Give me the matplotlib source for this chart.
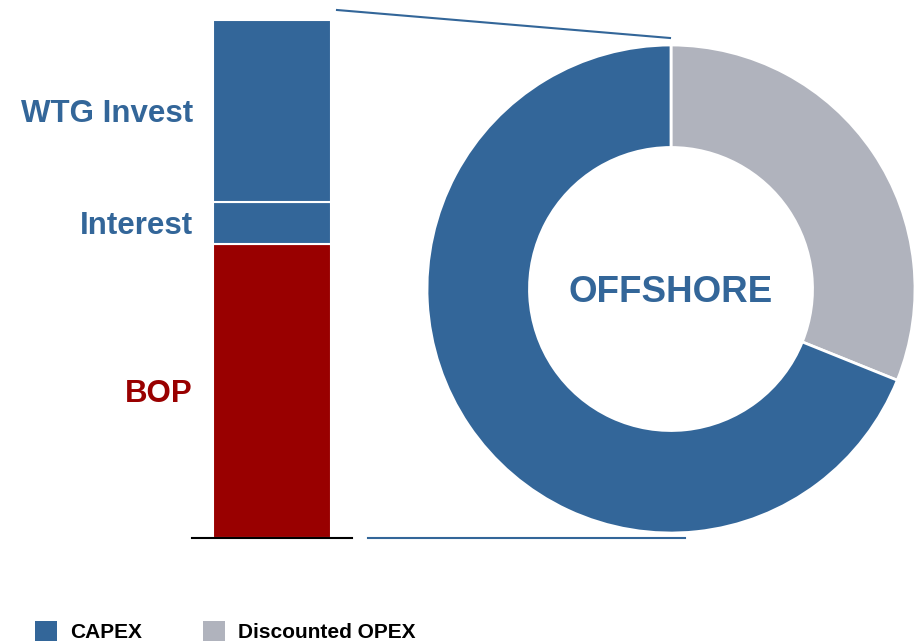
import matplotlib.pyplot as plt
from matplotlib.patches import Patch
from matplotlib.lines import Line2D
import matplotlib.transforms as mtransforms

plt.rcParams['font.family'] = ['Liberation Sans', 'DejaVu Sans']

# stacked bar (cost breakdown, % of CAPEX)
bar_labels = ['BOP', 'Interest', 'WTG Invest']
bar_values = [56.8, 8.1, 35.1]
bar_colors = ['#990000', '#336699', '#336699']
label_colors = ['#990000', '#336699', '#336699']

# donut (share of lifetime cost)
donut_labels = ['Discounted OPEX', 'CAPEX']
donut_values = [31.1, 68.9]
donut_colors = ['#B0B3BD', '#336699']

W, H = 916, 644
fig = plt.figure(figsize=(W / 100, H / 100), dpi=100)


def px_axes(x0, y_top, x1, y_bot):
    return fig.add_axes([x0 / W, 1 - y_bot / H, (x1 - x0) / W, (y_bot - y_top) / H])


# --- bar
ax1 = px_axes(192, 20, 352, 538)
bottom = 0
for lab, val, col, tcol in zip(bar_labels, bar_values, bar_colors, label_colors):
    ax1.bar(0.5, val, width=0.7375, bottom=bottom, color=col,
            edgecolor='white', linewidth=1.5)
    trans = mtransforms.blended_transform_factory(ax1.transAxes, ax1.transData)
    ax1.text(0.005, bottom + val / 2, lab, transform=trans, ha='right',
             va='center_baseline', fontsize=22.5, fontweight='bold', color=tcol)
    bottom += val
ax1.set_xlim(0, 1)
ax1.set_ylim(0, sum(bar_values))
for s in ['top', 'right', 'left']:
    ax1.spines[s].set_visible(False)
ax1.spines['bottom'].set_color('black')
ax1.spines['bottom'].set_linewidth(1.5)
ax1.set_xticks([])
ax1.set_yticks([])
ax1.patch.set_alpha(0)

# --- donut
ax2 = px_axes(427, 45, 915, 533)
ax2.pie(donut_values, colors=donut_colors, startangle=90, counterclock=False,
        radius=1.0, wedgeprops=dict(width=0.42, edgecolor='white', linewidth=2))
ax2.set_xlim(-1, 1)
ax2.set_ylim(-1, 1)
ax2.set_aspect('equal')
ax2.text(0, 0, 'OFFSHORE', ha='center', va='center_baseline', fontsize=26.5,
         fontweight='bold', color='#336699')

# --- connector lines (pixel coordinates)
def fig_line(x0, y0, x1, y1):
    fig.add_artist(Line2D([x0 / W, x1 / W], [1 - y0 / H, 1 - y1 / H],
                          transform=fig.transFigure, color='#336699', linewidth=1.5))


fig_line(337, 10, 670, 38)
fig_line(368, 538, 685, 538)

# --- legend
handles = [Patch(facecolor=donut_colors[1], edgecolor='none', label='CAPEX'),
           Patch(facecolor=donut_colors[0], edgecolor='none', label='Discounted OPEX')]
fig.legend(handles=handles, loc='lower left', bbox_to_anchor=(35 / W, 2 / H),
           ncol=2, frameon=False, prop={'weight': 'bold', 'size': 15},
           handlelength=1.06, handleheight=1.06, handletextpad=0.63,
           columnspacing=2.9, borderpad=0, borderaxespad=0)

fig.savefig('out.png', dpi=100)
